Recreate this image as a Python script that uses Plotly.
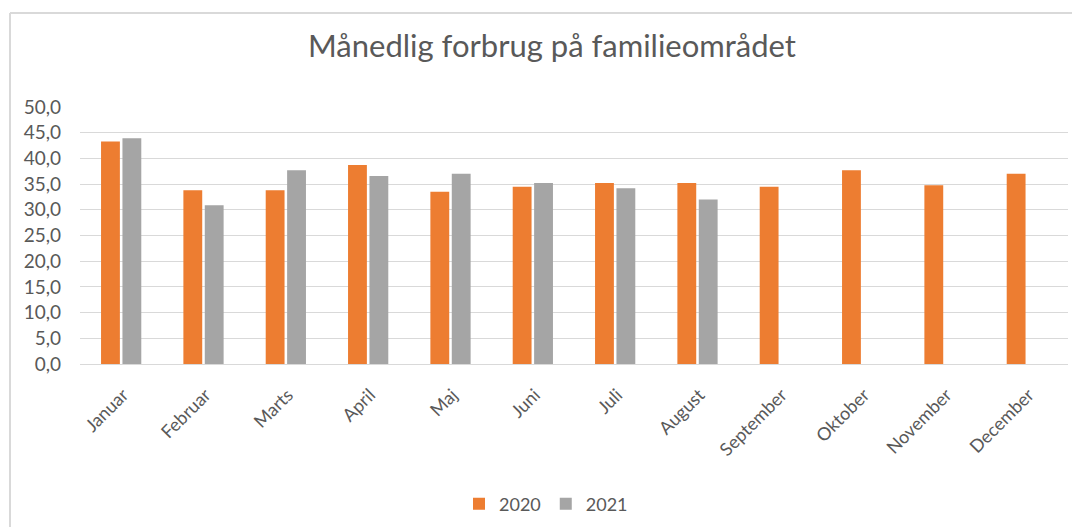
import plotly.graph_objects as go

months = ["Januar", "Februar", "Marts", "April", "Maj", "Juni", "Juli",
          "August", "September", "Oktober", "November", "December"]
v2020 = [43.3, 33.8, 33.8, 38.7, 33.5, 34.5, 35.2, 35.2, 34.5, 37.7, 34.8, 37.0]
v2021 = [43.9, 30.9, 37.7, 36.6, 37.0, 35.2, 34.2, 32.0, None, None, None, None]
yticks = [0, 5, 10, 15, 20, 25, 30, 35, 40, 45, 50]
ytick_labels = ["0,0", "5,0", "10,0", "15,0", "20,0", "25,0", "30,0", "35,0", "40,0", "45,0", "50,0"]

# page has an 8px body margin; work in page coordinates and subtract it
OFF = 8
W, H = 1080 - OFF, 527 - OFF
ml, mr = 80 - OFF, 12
mt = 107 - OFF
mb = 527 - 364
pw, ph = W - ml - mr, H - mt - mb


def px_x(page_x):
    return (page_x - OFF - ml) / pw


def px_y(page_y):
    return (H - mb - (page_y - OFF)) / ph


fig = go.Figure()
fig.add_trace(go.Bar(name="2020", x=months, y=v2020, marker=dict(color="#ED7D31", line=dict(width=0))))
fig.add_trace(go.Bar(name="2021", x=months, y=v2021, marker=dict(color="#A5A5A5", line=dict(width=0))))

font = "Lato, 'Open Sans', sans-serif"
fig.update_layout(
    width=W, height=H,
    margin=dict(l=ml, r=mr, t=mt, b=mb, autoexpand=False),
    paper_bgcolor="white", plot_bgcolor="white",
    barmode="group", bargap=0.48, bargroupgap=0.12,
    title=dict(text="Månedlig forbrug på familieområdet", x=(552 - OFF) / W, xanchor="center",
               y=1 - (46 - OFF) / H, yanchor="middle",
               font=dict(family=font, size=31, color="#595959")),
    font=dict(family=font, color="#595959"),
    showlegend=True,
    legend=dict(orientation="h", x=px_x(546), xanchor="center", y=px_y(504),
                yanchor="middle", font=dict(size=18, color="#595959"), traceorder="normal",
                itemwidth=30),
    xaxis=dict(tickangle=-45, tickfont=dict(size=18, color="#595959"), showgrid=False,
               showline=False, ticks="", automargin=False, ticklabelstandoff=16,
               ticklabelshift=2),
    yaxis=dict(range=[0, 50], tickvals=yticks, ticktext=ytick_labels, automargin=False,
               tickfont=dict(size=19, color="#595959"), showgrid=True, gridcolor="#D9D9D9",
               gridwidth=1.3, zeroline=True, zerolinecolor="#D9D9D9", zerolinewidth=1.3,
               showline=False, ticks="", ticklen=0, ticklabelstandoff=18),
    shapes=[
        dict(type="line", xref="paper", yref="paper",
             x0=px_x(10), x1=px_x(10), y0=px_y(13), y1=px_y(540),
             line=dict(color="#D9D9D9", width=2)),
        dict(type="line", xref="paper", yref="paper",
             x0=px_x(10), x1=px_x(1090), y0=px_y(13), y1=px_y(13),
             line=dict(color="#D9D9D9", width=2)),
    ],
)
fig.write_html("out.html")
